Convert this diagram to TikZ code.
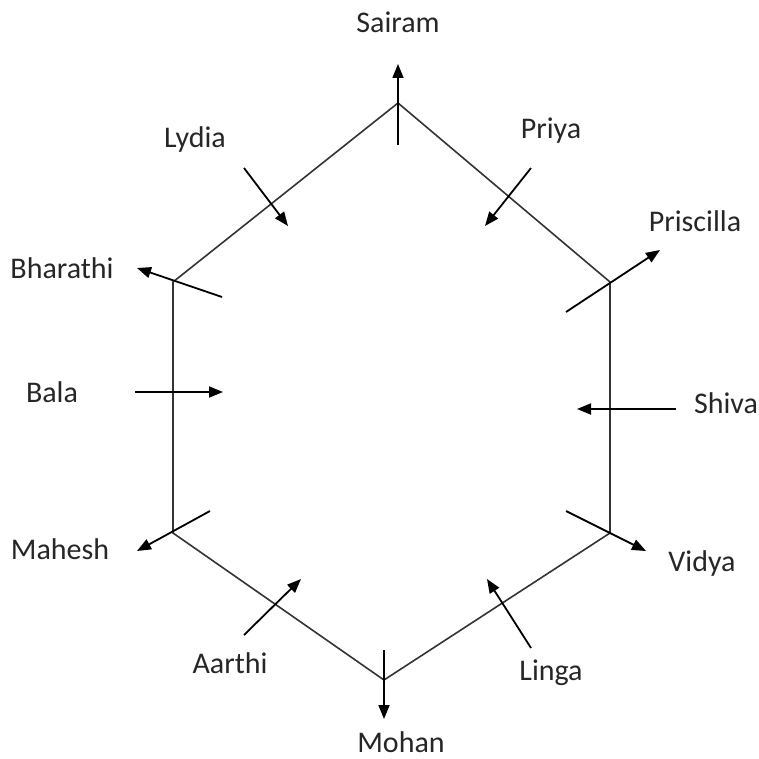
\documentclass[tikz,border=0pt]{standalone}
\usepackage{fontspec}
\setmainfont{Carlito}
\usetikzlibrary{arrows.meta}
\begin{document}
\begin{tikzpicture}[x=1pt,y=-1pt,
  hexline/.style={line width=1.6pt, draw=black!80},
  arr/.style={line width=1.8pt, -{Triangle[length=14pt,width=11pt]}},
  lbl/.style={font=\fontsize{30}{36}\selectfont, text=black!85, inner sep=0pt}]
\useasboundingbox (0,0) rectangle (759,759);
% hexagon vertices
\coordinate (T) at (398,103);
\coordinate (UR) at (610,282);
\coordinate (LR) at (610,533);
\coordinate (B) at (384,680);
\coordinate (LL) at (173,533);
\coordinate (UL) at (173,282);
\draw[hexline] (T) -- (UR) -- (LR) -- (B) -- (LL) -- (UL) -- cycle;
% labels
\node[lbl] (sairam) at (398,22) {Sairam};
\node[lbl] (lydia) at (195,140) {Lydia};
\node[lbl] (priya) at (551,131) {Priya};
\node[lbl] (priscilla) at (695,221) {Priscilla};
\node[lbl] (bharathi) at (62,268) {Bharathi};
\node[lbl] (bala) at (52,392) {Bala};
\node[lbl] (shiva) at (726,403) {Shiva};
\node[lbl] (mahesh) at (60,549) {Mahesh};
\node[lbl] (vidya) at (702,563) {Vidya};
\node[lbl] (aarthi) at (230,663) {Aarthi};
\node[lbl] (linga) at (551,673) {Linga};
\node[lbl] (mohan) at (401,742) {Mohan};
% arrow endpoints
\coordinate (s1) at (398,145); \coordinate (s2) at (398,64);
\coordinate (ly1) at (244,168); \coordinate (ly2) at (288,226);
\coordinate (p1) at (531,168); \coordinate (p2) at (485,226);
\coordinate (pr1) at (566,312); \coordinate (pr2) at (660,250);
\coordinate (bh1) at (222,297); \coordinate (bh2) at (137,268);
\coordinate (ba1) at (135,392); \coordinate (ba2) at (223,392);
\coordinate (sh1) at (676,409); \coordinate (sh2) at (577,409);
\coordinate (m1) at (210,511); \coordinate (m2) at (137,551);
\coordinate (v1) at (566,511); \coordinate (v2) at (646,551);
\coordinate (a1) at (244,635); \coordinate (a2) at (301,579);
\coordinate (l1) at (531,648); \coordinate (l2) at (487,579);
\coordinate (mo1) at (384,650); \coordinate (mo2) at (384,719);
\draw[arr] (s1) -- (s2);
\draw[arr] (ly1) -- (ly2);
\draw[arr] (p1) -- (p2);
\draw[arr] (pr1) -- (pr2);
\draw[arr] (bh1) -- (bh2);
\draw[arr] (ba1) -- (ba2);
\draw[arr] (sh1) -- (sh2);
\draw[arr] (m1) -- (m2);
\draw[arr] (v1) -- (v2);
\draw[arr] (a1) -- (a2);
\draw[arr] (l1) -- (l2);
\draw[arr] (mo1) -- (mo2);
\end{tikzpicture}
\end{document}
